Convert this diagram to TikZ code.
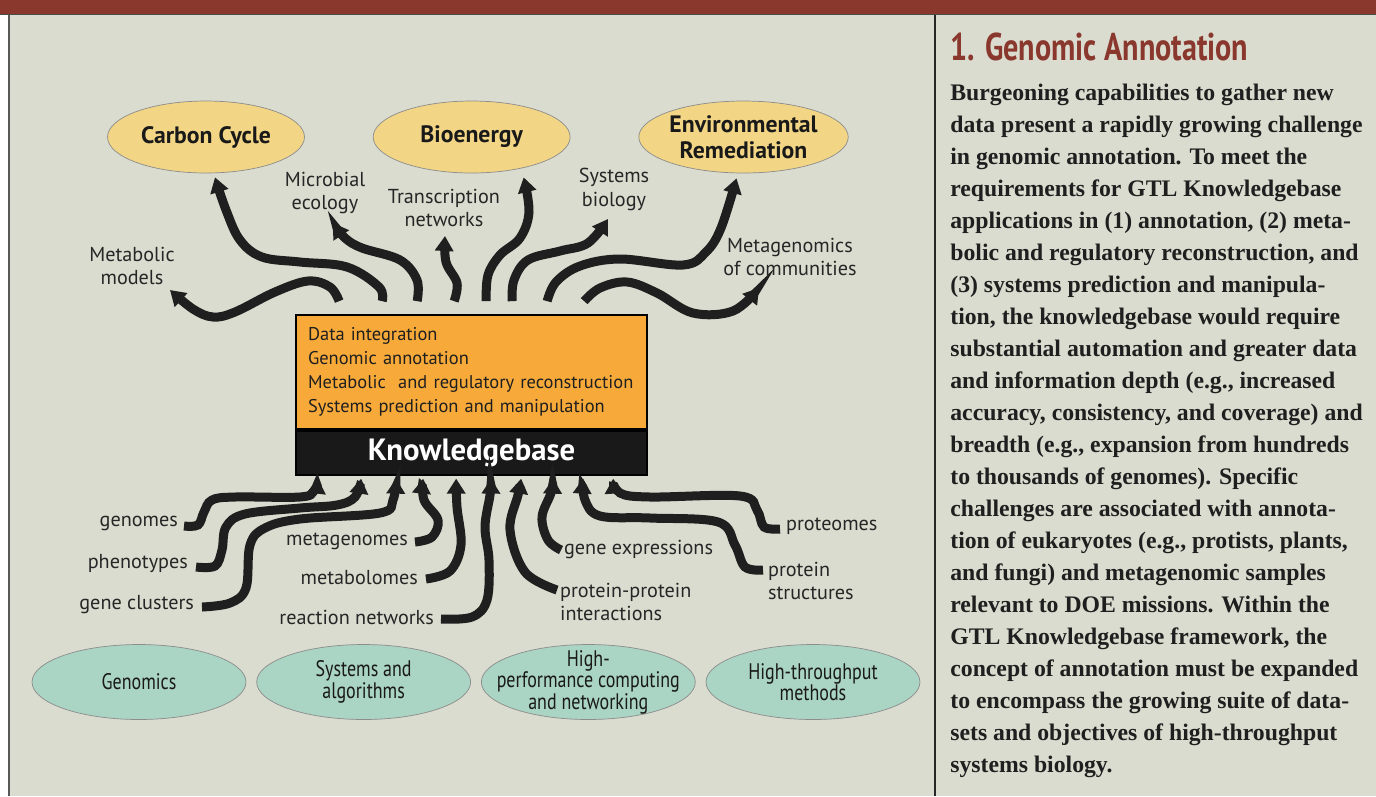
\documentclass[tikz,border=0pt]{standalone}
\usepackage{fontspec}
\setmainfont{Liberation Serif}
\newfontfamily\labelfont{PT Sans}
\newfontfamily\narrowfont[FakeStretch=0.8]{PT Sans}
\newfontfamily\headfont[FakeStretch=0.78]{PT Sans}
\usetikzlibrary{positioning, calc, shapes.geometric, arrows.meta}
\definecolor{bannerred}{RGB}{138,56,46}
\definecolor{paper}{RGB}{218,220,207}
\definecolor{goalfill}{RGB}{242,214,134}
\definecolor{basefill}{RGB}{170,212,196}
\definecolor{kbfill}{RGB}{247,170,58}

\begin{document}
\begin{tikzpicture}[x=0.02cm, y=-0.02cm, node distance=1.36cm, >={Triangle[width=0.36cm,length=0.3cm]}]
\tikzstyle{goal}=[ellipse, draw=black!45, thin, fill=goalfill, minimum width=3.94cm, minimum height=1.44cm, inner sep=0pt, align=center, text=black!90, font=\labelfont\bfseries\fontsize{13.5}{14.5}\selectfont]
\tikzstyle{base}=[ellipse, draw=black!45, thin, fill=basefill, minimum width=4.28cm, minimum height=1.5cm, inner xsep=-0.6cm, inner ysep=-0.2cm, align=center, text=black!90, font=\narrowfont\fontsize{12.8}{12.2}\selectfont]
\tikzstyle{lbl}=[inner sep=1pt, align=center, text=black!85, font=\labelfont\fontsize{11.5}{13.6}\selectfont]
\tikzstyle{flow}=[->, line width=0.18cm, draw=black!88]

% frame
\useasboundingbox (0,0) rectangle (1376,796);
\fill[white] (0,0) rectangle (1376,796);
\fill[paper] (9,15) rectangle (1376,796);
\fill[bannerred] (0,0) rectangle (1376,14);
\draw[black!70, line width=0.8pt] (0,14.5) -- (1376,14.5);
\draw[black!65, line width=1.2pt] (9,15) -- (9,796);
\draw[black!85, line width=0.8pt] (935,15) -- (935,796);

% goals
\node [goal] (carbon) at (206,137) {Carbon Cycle};
\node [goal] (bio) [right=of carbon] {Bioenergy};
\node [goal] (env) [right=of bio] {Environmental\\Remediation};

% knowledgebase
\node [draw=black, line width=1pt, fill=kbfill, minimum width=7.02cm, minimum height=2.28cm, text width=6.54cm, align=left, inner xsep=0.24cm, text=black!88, font=\labelfont\fontsize{10.5}{13.65}\selectfont] (kbtop) at (471.5,372)
{Data integration\\Genomic annotation\\Metabolic\ \ and regulatory reconstruction\\Systems prediction and manipulation};
\node [draw=black, line width=1pt, fill=black!90, minimum width=7.02cm, minimum height=0.88cm, text=white, font=\labelfont\bfseries\fontsize{17.5}{18}\selectfont] (kb) [below=0pt of kbtop] {Knowledgebase};

% bases
\node [base] (genomics) at (139,682) {Genomics};
\node [base] (sysalg) [right=0.2cm of genomics] {Systems and\\algorithms};
\node [base] (hpc) [right=0.2cm of sysalg] {High-\\performance computing\\and networking};
\node [base] (htp) [right=0.2cm of hpc] {High-throughput\\methods};

% outputs
\node [lbl] (mmodels) at (132,266) {Metabolic\\models};
\node [lbl] (microbial) at (325,193) {Microbial\\ecology};
\node [lbl] (transcr) at (444,208) {Transcription\\networks};
\node [lbl] (sysbio) at (614,189) {Systems\\biology};
\node [lbl] (metagen) at (790,257) {Metagenomics\\of communities};

% inputs
\node [lbl, anchor=east] (genomes) at (180,523) {genomes};
\node [lbl, anchor=east] (pheno) at (190,563) {phenotypes};
\node [lbl, anchor=east] (clusters) at (196,605) {gene clusters};
\node [lbl, anchor=east] (metagenomes) at (410,541) {metagenomes};
\node [lbl, anchor=east] (metabol) at (420,578) {metabolomes};
\node [lbl, anchor=east] (reaction) at (436,617) {reaction networks};
\node [lbl, anchor=west] (geneexp) at (562,549) {gene expressions};
\node [lbl, anchor=west, align=left] (ppi) at (558,602) {protein-protein\\interactions};
\node [lbl, anchor=west] (proteomes) at (784,526) {proteomes};
\node [lbl, anchor=west, align=left] (structures) at (766,581) {protein\\structures};

% arrows out of the knowledgebase
\draw [flow] plot[smooth, tension=0.6] coordinates {($(kbtop.north west)+(44,-13)$) (330,287) (308,281) (275,292) (235,312) (213,317) (193,309) ($(mmodels.center)+(38,24)$)};
\draw [flow] plot[smooth, tension=0.6] coordinates {($(kbtop.north west)+(87,-13)$) (379,287) (347,267) (300,262) (262,257) (240,240) (226,210) ($(carbon.south)+(9,4)$)};
\draw [flow] plot[smooth, tension=0.6] coordinates {($(kbtop.north west)+(122,-13)$) (417,280) (400,260) (362,248) (345,238) ($(microbial.center)+(8,30)$)};
\draw [flow] plot[smooth, tension=0.6] coordinates {($(kbtop.north west)+(159,-13)$) (457,283) (446,262) ($(transcr.center)+(1,28)$)};
\draw [flow] plot[smooth, tension=0.6] coordinates {($(kbtop.north west)+(191,-13)$) (488,275) (500,255) (520,238) (529,212) ($(bio.south)+(52,4)$)};
\draw [flow] plot[smooth, tension=0.6] coordinates {($(kbtop.north west)+(217,-13)$) (514,280) (528,260) (560,251) (588,243) ($(sysbio.center)+(-6,30)$)};
\draw [flow] plot[smooth, tension=0.6] coordinates {($(kbtop.north west)+(252,-13)$) (556,282) (580,266) (620,259) (683,265) (706,252) (721,228) ($(env.south)+(-7,5)$)};
\draw [flow] plot[smooth, tension=0.6] coordinates {($(kbtop.north west)+(289,-13)$) (600,288) (627,282) (657,293) (693,313) (733,311) ($(metagen.center)+(-31,31)$)};

% arrows into the knowledgebase
\draw [flow] plot[smooth, tension=0.6] coordinates {($(genomes.east)+(4,3)$) (198,525) (204,512) (212,500) (235,497) (300,497) (314,491) ($(kb.south west)+(23,3)$)};
\draw [flow] plot[smooth, tension=0.6] coordinates {($(pheno.east)+(6,4)$) (215,566) (222,550) (226,527) (245,514) (300,508) (337,505) (355,497) ($(kb.south west)+(66,3)$)};
\draw [flow] plot[smooth, tension=0.6] coordinates {($(clusters.east)+(6,2)$) (230,603) (246,588) (250,545) (265,528) (300,519) (380,513) (393,500) ($(kb.south west)+(101,3)$)};
\draw [flow] plot[smooth, tension=0.6] coordinates {($(metagenomes.east)+(5,1)$) (432,537) (438,520) (424,500) ($(kb.south west)+(128,3)$)};
\draw [flow] plot[smooth, tension=0.6] coordinates {($(metabol.east)+(6,1)$) (450,571) (461,545) (457,507) ($(kb.south west)+(161,3)$)};
\draw [flow] plot[smooth, tension=0.6] coordinates {($(reaction.east)+(5,2)$) (472,617) (487,600) (489,560) (485,527) (490,495) ($(kb.south west)+(196,3)$)};
\draw [flow] plot[smooth, tension=0.6] coordinates {($(ppi.west)+(-1,-12)$) (525,572) (510,530) (518,495) ($(kb.south west)+(226,3)$)};
\draw [flow] plot[smooth, tension=0.6] coordinates {($(geneexp.west)+(-1,1)$) (548,540) (542,517) (551,493) ($(kb.south west)+(258,3)$)};
\draw [flow] plot[smooth, tension=0.6] coordinates {($(structures.west)+(-3,-11)$) (745,567) (735,545) (718,522) (650,518) (600,516) (585,500) ($(kb.south west)+(288,3)$)};
\draw [flow] plot[smooth, tension=0.6] coordinates {($(proteomes.west)+(-4,3)$) (764,527) (757,510) (740,496) (650,497) (620,493) ($(kb.south west)+(318,3)$)};

% text panel
\node [anchor=base west, inner sep=0pt, text=bannerred, font=\headfont\bfseries\fontsize{22}{24}\selectfont] (title) at (950,60) {1. Genomic Annotation};
\node [anchor=north west, inner sep=0pt, align=left, text=black!88, font=\bfseries\fontsize{13.5}{18.21}\selectfont] (body) at (950,84)
{Burgeoning capabilities to gather new\\
data present a rapidly growing challenge\\
in genomic annotation. To meet the\\
requirements for GTL Knowledgebase\\
applications in (1) annotation, (2) meta-\\
bolic and regulatory reconstruction, and\\
(3) systems prediction and manipula-\\
tion, the knowledgebase would require\\
substantial automation and greater data\\
and information depth (e.g., increased\\
accuracy, consistency, and coverage) and\\
breadth (e.g., expansion from hundreds\\
to thousands of genomes). Specific\\
challenges are associated with annota-\\
tion of eukaryotes (e.g., protists, plants,\\
and fungi) and metagenomic samples\\
relevant to DOE missions. Within the\\
GTL Knowledgebase framework, the\\
concept of annotation must be expanded\\
to encompass the growing suite of data-\\
sets and objectives of high-throughput\\
systems biology.};
\end{tikzpicture}
\end{document}
